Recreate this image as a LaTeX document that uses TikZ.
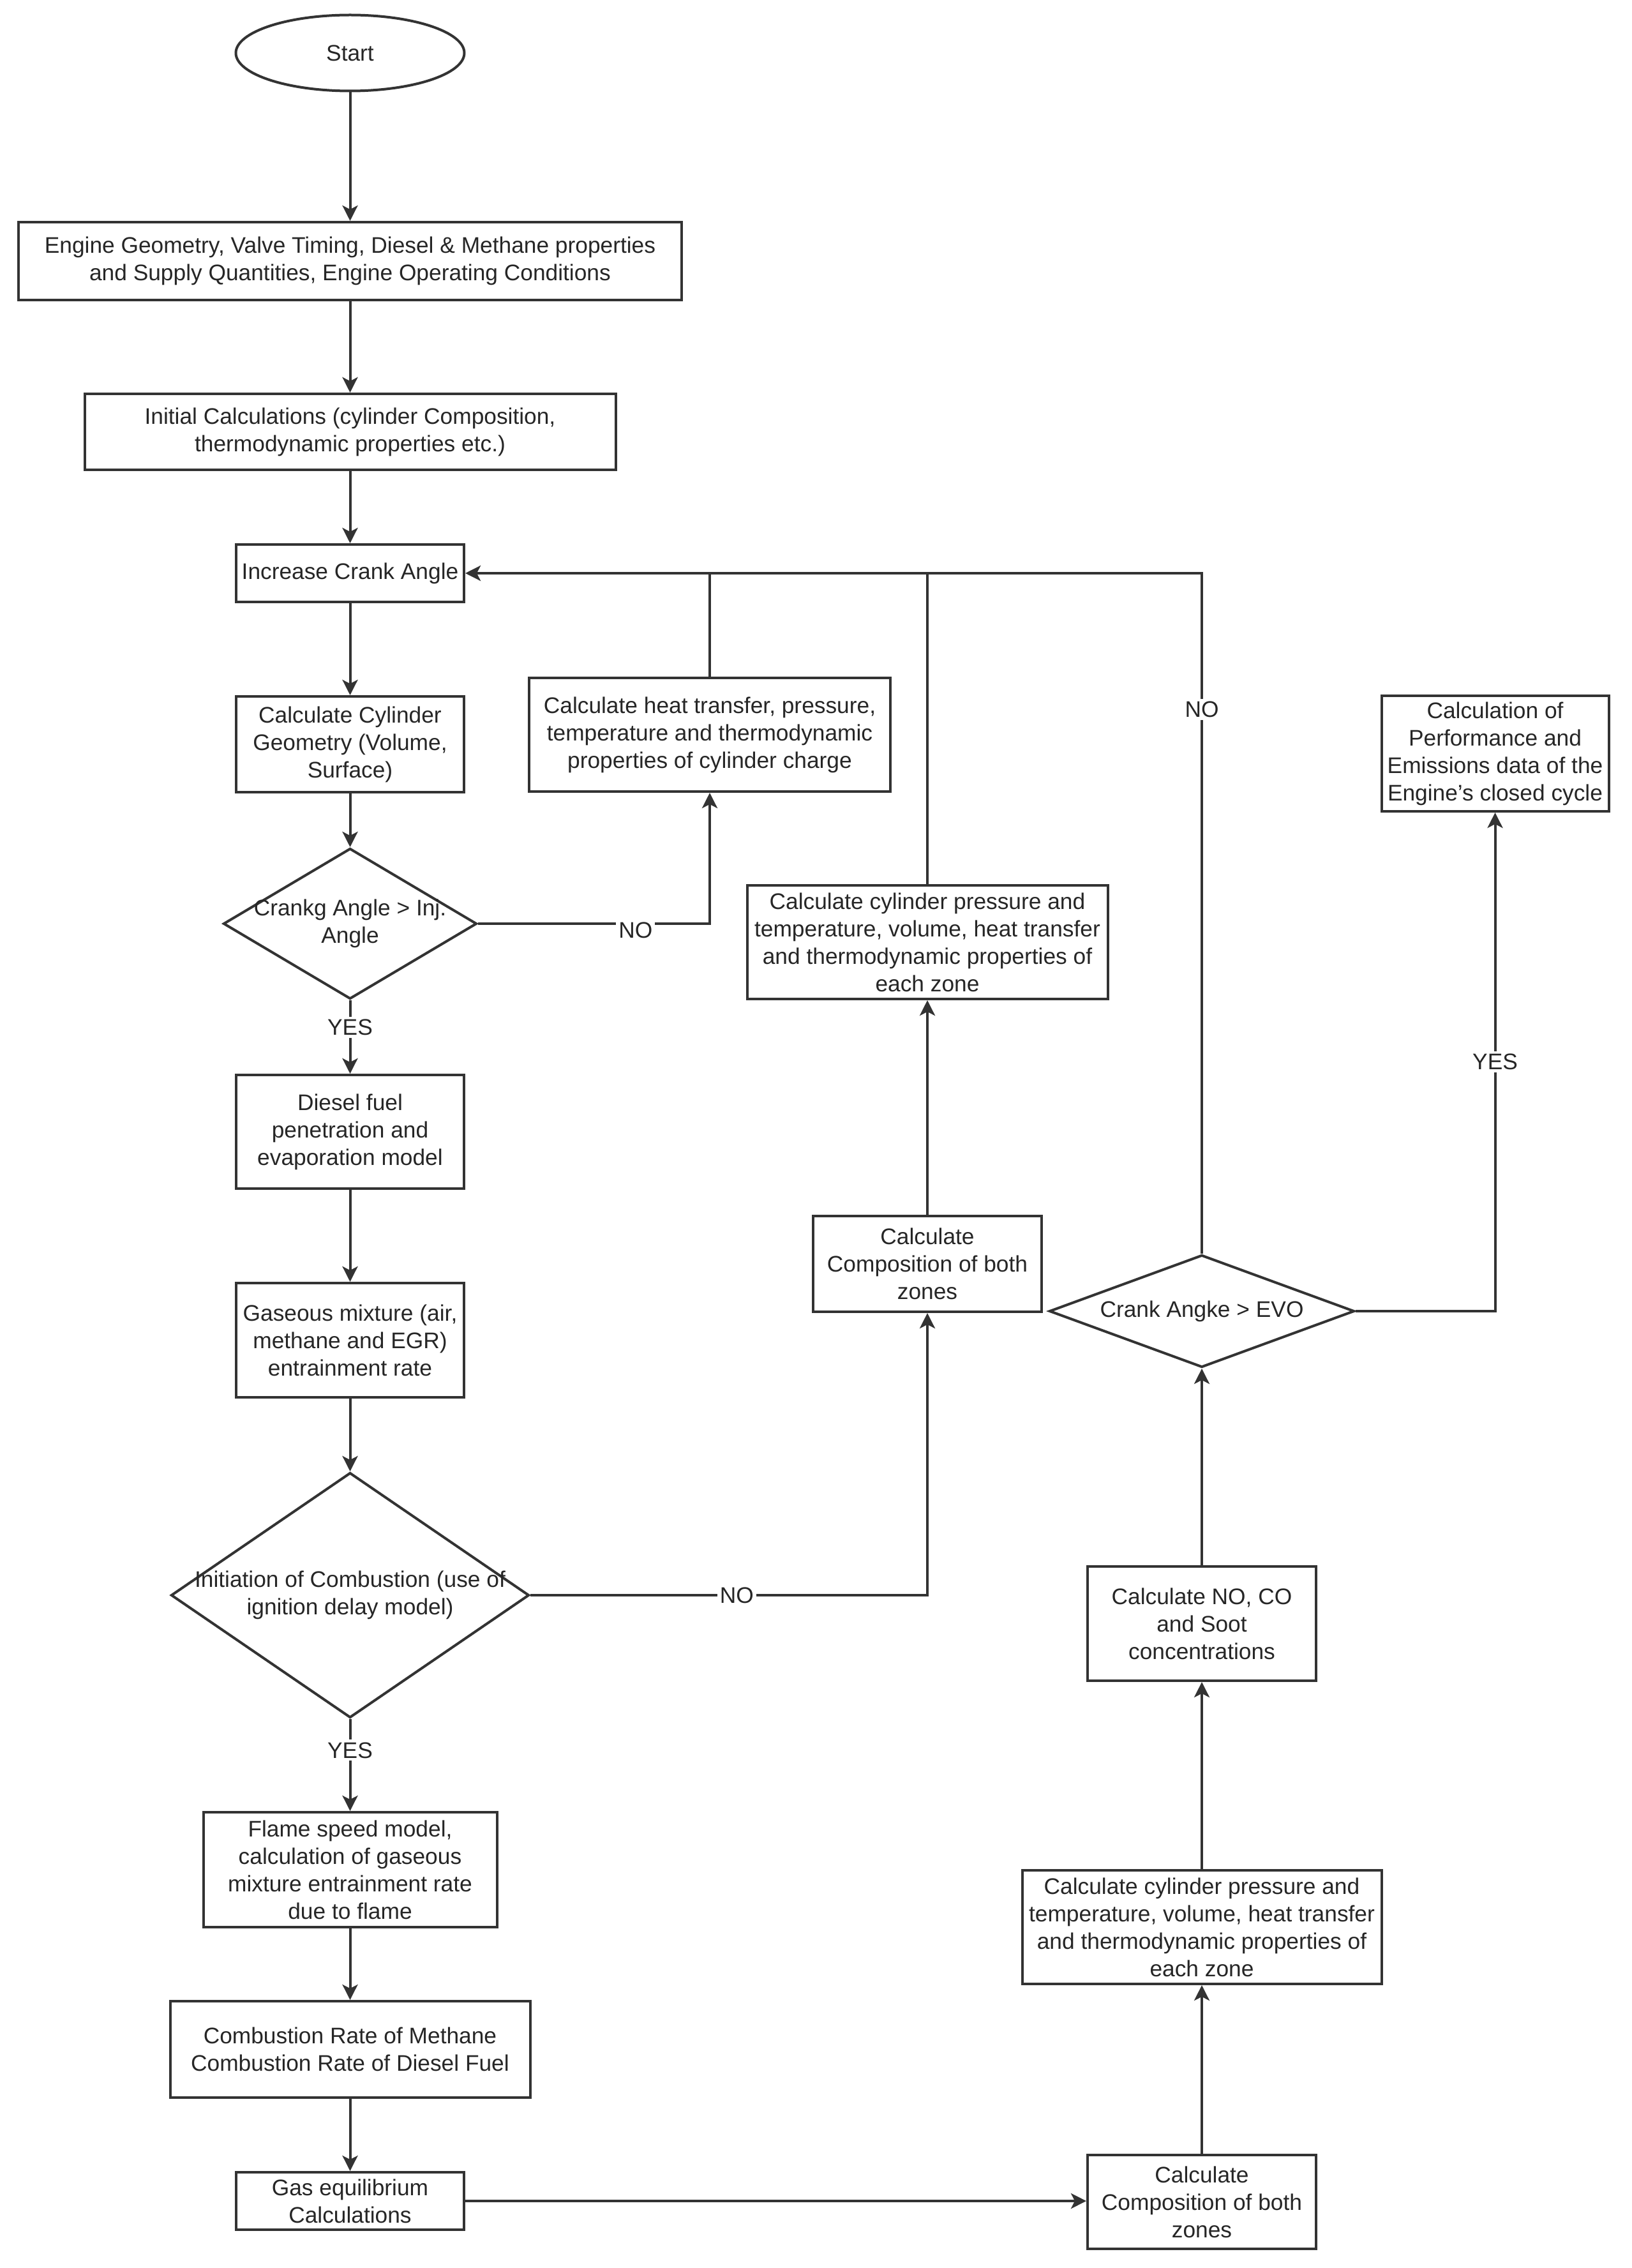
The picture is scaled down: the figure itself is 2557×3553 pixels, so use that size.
\documentclass[tikz,border=0pt]{standalone}
\usepackage{fontspec}
\setmainfont{Liberation Sans}
\usetikzlibrary{shapes.geometric,arrows.meta}
\begin{document}
\begin{tikzpicture}[x=0.25pt,y=-0.25pt,
  every node/.style={font=\fontsize{8.83}{10.75}\selectfont, text=black!85},
  box/.style={draw=black!80, line width=1pt, rectangle, align=center, inner sep=0pt},
  dia/.style={draw=black!80, line width=1pt, diamond, inner sep=0pt},
  oval/.style={draw=black!80, line width=1pt, ellipse, inner sep=0pt},
  txt/.style={align=center, inner sep=0pt},
  lbl/.style={fill=white, inner sep=1pt},
  arr/.style={draw=black!80, line width=1pt, -{Stealth[length=6pt,width=6pt,inset=1.5pt]}},
  ln/.style={draw=black!80, line width=1pt}
]
\fill[white] (0,0) rectangle (2557,3553);
\useasboundingbox (0,0) rectangle (2557,3553);

% left column
\node[oval, minimum width=89.5pt, minimum height=29.75pt] (start) at (548.5,83) {Start};
\node[box, minimum width=259.75pt, minimum height=30.5pt] (engine) at (548.5,409)
  {Engine Geometry, Valve Timing, Diesel \& Methane properties\\and Supply Quantities, Engine Operating Conditions};
\node[box, minimum width=208pt, minimum height=29.75pt] (init) at (548.5,676.5)
  {Initial Calculations (cylinder Composition,\\thermodynamic properties etc.)};
\node[box, minimum width=89.25pt, minimum height=22.5pt] (inc) at (548.5,898) {Increase Crank Angle};
\node[box, minimum width=89.25pt, minimum height=37.5pt] (geom) at (548.5,1166)
  {Calculate Cylinder\\Geometry (Volume,\\Surface)};
\node[dia, minimum width=99.25pt, minimum height=59pt] (d1) at (548.5,1447) {};
\node[txt] (d1t) at (d1.center) {Crankg Angle > Inj.\\Angle};
\node[box, minimum width=89.25pt, minimum height=44.5pt] (diesel) at (548.5,1773)
  {Diesel fuel\\penetration and\\evaporation model};
\node[box, minimum width=89.25pt, minimum height=44.75pt] (gas) at (548.5,2099.5)
  {Gaseous mixture (air,\\methane and EGR)\\entrainment rate};
\node[dia, minimum width=140.25pt, minimum height=96pt] (d2) at (548.5,2499) {};
\node[txt] (d2t) at (d2.center) {Initiation of Combustion (use of\\ignition delay model)};
\node[box, minimum width=115pt, minimum height=45pt] (flame) at (548.5,2929)
  {Flame speed model,\\calculation of gaseous\\mixture entrainment rate\\due to flame};
\node[box, minimum width=141pt, minimum height=37.75pt] (comb) at (548.5,3210.5)
  {Combustion Rate of Methane\\Combustion Rate of Diesel Fuel};
\node[box, minimum width=89.25pt, minimum height=22.5pt] (gaseq) at (548.5,3448)
  {Gas equilibrium\\Calculations};

% middle / right
\node[box, minimum width=141.5pt, minimum height=44.5pt] (heat) at (1112,1151)
  {Calculate heat transfer, pressure,\\temperature and thermodynamic\\properties of cylinder charge};
\node[box, minimum width=141.25pt, minimum height=44.5pt] (cyl1) at (1453,1476)
  {Calculate cylinder pressure and\\temperature, volume, heat transfer\\and thermodynamic properties of\\each zone};
\node[box, minimum width=89.5pt, minimum height=37.5pt] (comp1) at (1453,1980)
  {Calculate\\Composition of both\\zones};
\node[dia, minimum width=119.5pt, minimum height=44pt] (d3) at (1883,2054) {};
\node[txt] (d3t) at (d3.center) {Crank Angke > EVO};
\node[box, minimum width=89pt, minimum height=45.25pt] (perf) at (2342.5,1180.5)
  {Calculation of\\Performance and\\Emissions data of the\\Engine's closed cycle};
\node[box, minimum width=89.5pt, minimum height=44.75pt] (noco) at (1883,2543.5)
  {Calculate NO, CO\\and Soot\\concentrations};
\node[box, minimum width=140.75pt, minimum height=44.5pt] (cyl2) at (1883,3019)
  {Calculate cylinder pressure and\\temperature, volume, heat transfer\\and thermodynamic properties of\\each zone};
\node[box, minimum width=89.5pt, minimum height=36.75pt] (comp2) at (1883,3449.5)
  {Calculate\\Composition of both\\zones};

% connectors
\draw[arr] (start) -- (engine);
\draw[arr] (engine) -- (init);
\draw[arr] (init) -- (inc);
\draw[arr] (inc) -- (geom);
\draw[arr] (geom) -- (d1);
\draw[arr] (d1.south) -- node[lbl, pos=0.37] (yes1) {YES} (diesel.north);
\draw[arr] (d1.east) -| node[lbl, pos=0.34, yshift=-2.5pt] (no1) {NO} (heat.south);
\draw[arr] (diesel) -- (gas);
\draw[arr] (gas) -- (d2.north);
\draw[arr] (d2.south) -- node[lbl, pos=0.34] (yes2) {YES} (flame.north);
\draw[arr] (d2.east) -| node[lbl, pos=0.26] (no2) {NO} (comp1.south);
\draw[arr] (flame) -- (comb);
\draw[arr] (comb) -- (gaseq);
\draw[arr] (gaseq.east) -- (gaseq.east -| comp2.west);
\draw[arr] (comp2) -- (cyl2);
\draw[arr] (cyl2) -- (noco);
\draw[arr] (noco) -- (d3.south);
\draw[arr] (d3.east) -| node[lbl, pos=0.75] (yes3) {YES} (perf.south);
\draw[arr] (d3.north) |- node[lbl, pos=0.40] (no3) {NO} (inc.east);
\draw[arr] (comp1) -- (cyl1);
\draw[ln] (cyl1.north) -- (cyl1.north |- inc.east);
\draw[ln] (heat.north) -- (heat.north |- inc.east);
\end{tikzpicture}
\end{document}
